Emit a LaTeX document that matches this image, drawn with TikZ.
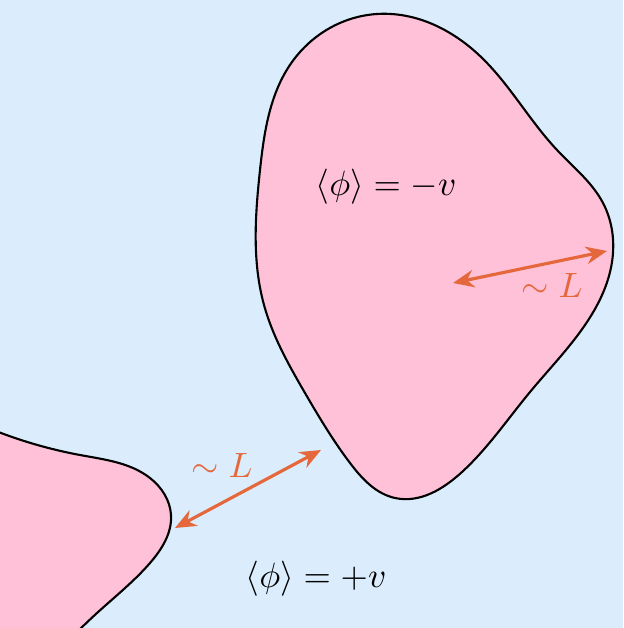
\documentclass[tikz,border=0pt]{standalone}
\usetikzlibrary{arrows.meta,hobby}
\definecolor{bgblue}{RGB}{219,237,252}
\definecolor{domainpink}{RGB}{255,193,215}
\definecolor{lenorange}{RGB}{228,104,60}
\begin{document}
\begin{tikzpicture}[x=0.01cm,y=-0.01cm,
  region/.style={fill=domainpink,draw=black,line width=0.6pt},
  lenarrow/.style={lenorange,line width=0.9pt,
    {Stealth[length=6pt,width=5pt]}-{Stealth[length=6pt,width=5pt]}},
  lenlabel/.style={text=lenorange}]
\fill[bgblue] (0,0) rectangle (623,628);
\useasboundingbox (0,0) rectangle (623,628);
\begin{scope}
\clip (0,0) rectangle (623,628);
% domain with <phi> = -v
\draw[region,use Hobby shortcut,closed=true]
  (377,14) .. (480,56) .. (557,150) .. (603,203) .. (612,262)
  .. (585,325) .. (530,392) .. (462,472) .. (395,498) .. (350,463)
  .. (305,393) .. (264,305) .. (260,170) .. (292,62);
% domain cut by the frame
\draw[region,use Hobby shortcut]
  (-30,420) .. (80,455) .. (150,478) .. (171,515) .. (150,563)
  .. (97,613) .. (60,650) -- (-30,650) -- cycle;
\end{scope}
\node (minus) at (386,187) {$\langle\phi\rangle = -v$};
\node (plus) at (316,579) {$\langle\phi\rangle = +v$};
\coordinate (inA) at (453,283);
\coordinate (inB) at (607,251);
\coordinate (outA) at (175,528);
\coordinate (outB) at (321,450);
\draw[lenarrow] (inA) -- (inB);
\draw[lenarrow] (outA) -- (outB);
\node[lenlabel] (inlen) at (552,285) {$\sim L$};
\node[lenlabel] (outlen) at (222,465) {$\sim L$};
\end{tikzpicture}
\end{document}
